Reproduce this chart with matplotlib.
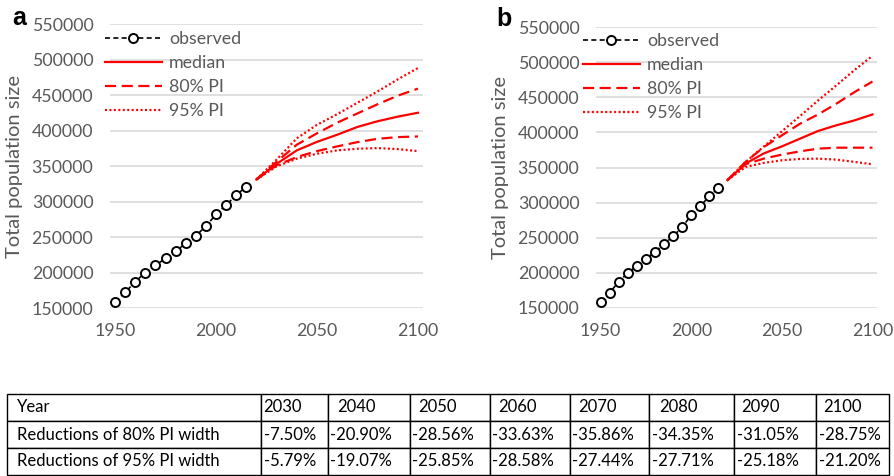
import matplotlib
matplotlib.use("Agg")
import matplotlib.pyplot as plt
import numpy as np

# observed series (same in both panels)
obs_years = [1950, 1955, 1960, 1965, 1970, 1975, 1980, 1985, 1990, 1995, 2000, 2005, 2010, 2015]
obs_pop = [159000, 172000, 187000, 200000, 210000, 220000, 230000, 241000, 252000, 265000,
           282000, 295000, 309000, 321000]

proj_years = [2020, 2030, 2040, 2050, 2060, 2070, 2080, 2090, 2100]

# panel a
median_a = [331000, 353000, 372000, 384000, 394000, 405000, 413000, 419500, 425000]
upper80_a = [331000, 356000, 380000, 396000, 411000, 424000, 437000, 449000, 459000]
lower80_a = [331000, 351000, 362600, 371000, 377600, 383600, 388300, 390700, 391600]
upper95_a = [331000, 359000, 389000, 408000, 423000, 439000, 455000, 472000, 488000]
lower95_a = [331000, 349500, 360300, 367300, 372000, 374300, 375200, 373800, 371000]

# panel b
median_b = [332000, 355500, 370000, 380000, 391000, 402000, 410000, 417000, 425500]
upper80_b = [332000, 358000, 379000, 395700, 412300, 425500, 440700, 457200, 472400]
lower80_b = [332000, 354600, 362600, 368300, 373000, 376800, 378200, 378200, 378200]
upper95_b = [332000, 357900, 379700, 401400, 423200, 445400, 466700, 488500, 509000]
lower95_b = [332000, 350800, 356500, 360300, 362200, 362600, 361200, 358000, 354600]

# table
table_header = ["Year", "2030", "2040", "2050", "2060", "2070", "2080", "2090", "2100"]
red80 = ["-7.50%", "-20.90%", "-28.56%", "-33.63%", "-35.86%", "-34.35%", "-31.05%", "-28.75%"]
red95 = ["-5.79%", "-19.07%", "-25.85%", "-28.58%", "-27.44%", "-27.71%", "-25.18%", "-21.20%"]

W, H = 894, 476
GRAY = "#595959"
RED = "#ff0000"
FONT = ["Lato", "DejaVu Sans"]
FS = 12.8

plt.rcParams["font.family"] = FONT

fig = plt.figure(figsize=(W / 100, H / 100), dpi=100)


def px_axes(l, t, r, b):
    return fig.add_axes([l / W, 1 - b / H, (r - l) / W, (b - t) / H])


def draw_panel(ax, med, up80, lo80, up95, lo95, ylab_x):
    ax.plot(obs_years, obs_pop, color="black", lw=1.2, ls=(0, (3, 2)),
            marker="o", ms=6.5, mfc="white", mec="black", mew=1.4, label="observed", zorder=3)
    ax.plot(proj_years, med, color=RED, lw=1.6, label="median")
    ax.plot(proj_years, up80, color=RED, lw=1.6, ls=(0, (5, 2.5)), label="80% PI")
    ax.plot(proj_years, lo80, color=RED, lw=1.6, ls=(0, (5, 2.5)))
    ax.plot(proj_years, up95, color=RED, lw=1.6, ls=(0, (0.9, 1.1)), label="95% PI")
    ax.plot(proj_years, lo95, color=RED, lw=1.6, ls=(0, (0.9, 1.1)))

    ax.set_xlim(1947.5, 2102.5)
    ax.set_ylim(150000, 550000)
    ax.set_xticks([1950, 2000, 2050, 2100])
    ax.set_yticks(np.arange(150000, 550001, 50000))
    ax.grid(axis="y", color="#d9d9d9", lw=1.2)
    ax.set_axisbelow(True)
    for s in ax.spines.values():
        s.set_visible(False)
    ax.tick_params(length=0, labelsize=FS, labelcolor=GRAY)
    ax.tick_params(axis="y", pad=12)
    ax.tick_params(axis="x", pad=11)
    ax.set_ylabel("Total population size", fontsize=14.5, color=GRAY)
    ax.yaxis.set_label_coords(ylab_x, 0.5)


def add_legend(ax, x, y):
    ax.legend(loc="upper left", bbox_to_anchor=(x / W, 1 - y / H), bbox_transform=fig.transFigure,
              frameon=False, fontsize=FS, labelcolor=GRAY, handlelength=3.2, handletextpad=0.4,
              labelspacing=0.45, borderpad=0, borderaxespad=0, numpoints=1)


ax_a = px_axes(110, 24, 423, 308)
draw_panel(ax_a, median_a, upper80_a, lower80_a, upper95_a, lower95_a, -0.278)
add_legend(ax_a, 105, 31)

ax_b = px_axes(596, 27, 877, 308)
draw_panel(ax_b, median_b, upper80_b, lower80_b, upper95_b, lower95_b, -0.31)
add_legend(ax_b, 583, 33)

fig.text(12 / W, 1 - 25 / H, "a", fontsize=18, fontweight="bold", family="Liberation Sans")
fig.text(496 / W, 1 - 26 / H, "b", fontsize=18, fontweight="bold", family="Liberation Sans")

# table
col_px = [254, 67, 82, 80, 80, 79, 85, 82, 73]
head_pad = [10, 2.5, 9.5, 8.5, 8.5, 8.5, 10, 7, 7]
val_pad = [10, 3, 2, 2, 2, 2, 3, 3, 3]
ax_t = px_axes(7, 394, 889, 475)
ax_t.axis("off")
cells = [table_header,
         ["Reductions of 80% PI width"] + red80,
         ["Reductions of 95% PI width"] + red95]
tbl = ax_t.table(cellText=cells, colWidths=[c / sum(col_px) for c in col_px],
                 cellLoc="left", bbox=[0, 0, 1, 1])
tbl.auto_set_font_size(False)
for (r, c), cell in tbl.get_celld().items():
    cell.set_edgecolor("black")
    cell.set_linewidth(1.0)
    pad = head_pad[c] if r == 0 else val_pad[c]
    cell.PAD = pad / col_px[c]
    t = cell.get_text()
    t.set_fontsize(12)
    t.set_fontfamily(FONT)
    t.set_color("black")

fig.savefig("out.png", dpi=100)
